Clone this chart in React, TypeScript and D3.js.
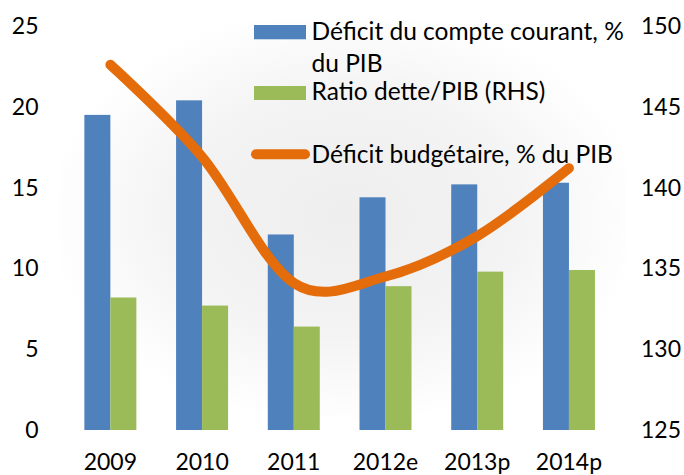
import React from "react";
import * as d3 from "d3";

const categories = ["2009", "2010", "2011", "2012e", "2013p", "2014p"];
const currentAccountDeficit = [19.5, 20.4, 12.1, 14.4, 15.2, 15.3];
const debtRatio = [133.2, 132.7, 131.4, 133.9, 134.8, 134.9];
const budgetDeficit = [22.6, 16.9, 9.1, 9.5, 12.0, 16.2];
const leftTicks = [0, 5, 10, 15, 20, 25];
const rightTicks = [125, 130, 135, 140, 145, 150];
const seriesNames = ["Déficit du compte courant, %", "du PIB", "Ratio dette/PIB (RHS)", "Déficit budgétaire, % du PIB"];

const W = 684;
const H = 475;
const FONT = "Lato, 'Open Sans', sans-serif";
const BLUE = "#4f81bd";
const GREEN = "#9bbb59";
const ORANGE = "#e46c0a";

export default function App() {
  const yL = d3.scaleLinear().domain([0, 25]).range([430, 26]);
  const yR = d3.scaleLinear().domain([125, 150]).range([430, 26]);
  const x = d3
    .scaleBand<string>()
    .domain(categories)
    .range([64.5, 614.8])
    .paddingInner(0.433)
    .paddingOuter(0.2165);
  const sub = d3.scaleBand<string>().domain(["a", "b"]).range([0, x.bandwidth()]);
  const cx = (c: string) => (x(c) as number) + x.bandwidth() / 2;

  const line = d3
    .line<number>()
    .x((_, i) => cx(categories[i]))
    .y((d) => yL(d))
    .curve(d3.curveCardinal.tension(0));

  const fs = 23;
  const lfs = 24.5;

  return (
    <svg
      width={W}
      height={H}
      style={{ position: "absolute", left: 0, top: 0, background: "#fff" }}
      fontFamily={FONT}
    >
      <defs>
        <radialGradient id="bg" cx="345" cy="215" r="300" gradientUnits="userSpaceOnUse" gradientTransform="translate(345 215) scale(1 0.7) translate(-345 -215)">
          <stop offset="0" stopColor="#eeeeee" />
          <stop offset="0.55" stopColor="#f3f3f3" />
          <stop offset="1" stopColor="#ffffff" />
        </radialGradient>
      </defs>
      <rect x={0} y={0} width={W} height={H} fill="#fff" />
      <rect x={60} y={20} width={565} height={410} fill="url(#bg)" />

      {categories.map((c, i) => (
        <g key={c}>
          <rect
            x={(x(c) as number) + (sub("a") as number)}
            y={yL(currentAccountDeficit[i])}
            width={sub.bandwidth()}
            height={yL(0) - yL(currentAccountDeficit[i])}
            fill={BLUE}
          />
          <rect
            x={(x(c) as number) + (sub("b") as number)}
            y={yR(debtRatio[i])}
            width={sub.bandwidth()}
            height={yR(125) - yR(debtRatio[i])}
            fill={GREEN}
          />
        </g>
      ))}

      <path
        d={line(budgetDeficit) || ""}
        fill="none"
        stroke={ORANGE}
        strokeWidth={10}
        strokeLinecap="round"
        strokeLinejoin="round"
      />

      {leftTicks.map((t) => (
        <text key={"l" + t} x={38.5} y={yL(t) + 8} textAnchor="end" fontSize={fs} fill="#000">
          {t}
        </text>
      ))}
      {rightTicks.map((t) => (
        <text key={"r" + t} x={641} y={yR(t) + 8} textAnchor="start" fontSize={fs} fill="#000">
          {t}
        </text>
      ))}
      {categories.map((c) => (
        <text key={"c" + c} x={cx(c)} y={470} textAnchor="middle" fontSize={fs} fill="#000">
          {c}
        </text>
      ))}

      <rect x={254} y={25} width={52} height={14.3} fill={BLUE} />
      <text x={311.5} y={39.5} fontSize={lfs} fill="#000">{seriesNames[0]}</text>
      <text x={311.5} y={71.7} fontSize={lfs} fill="#000">{seriesNames[1]}</text>
      <rect x={254} y={86} width={52} height={14} fill={GREEN} />
      <text x={311.5} y={100} fontSize={lfs} fill="#000">{seriesNames[2]}</text>
      <line x1={256} y1={154.3} x2={305} y2={154.3} stroke={ORANGE} strokeWidth={10} strokeLinecap="round" />
      <text x={311.5} y={162.7} fontSize={lfs} fill="#000">{seriesNames[3]}</text>
    </svg>
  );
}
